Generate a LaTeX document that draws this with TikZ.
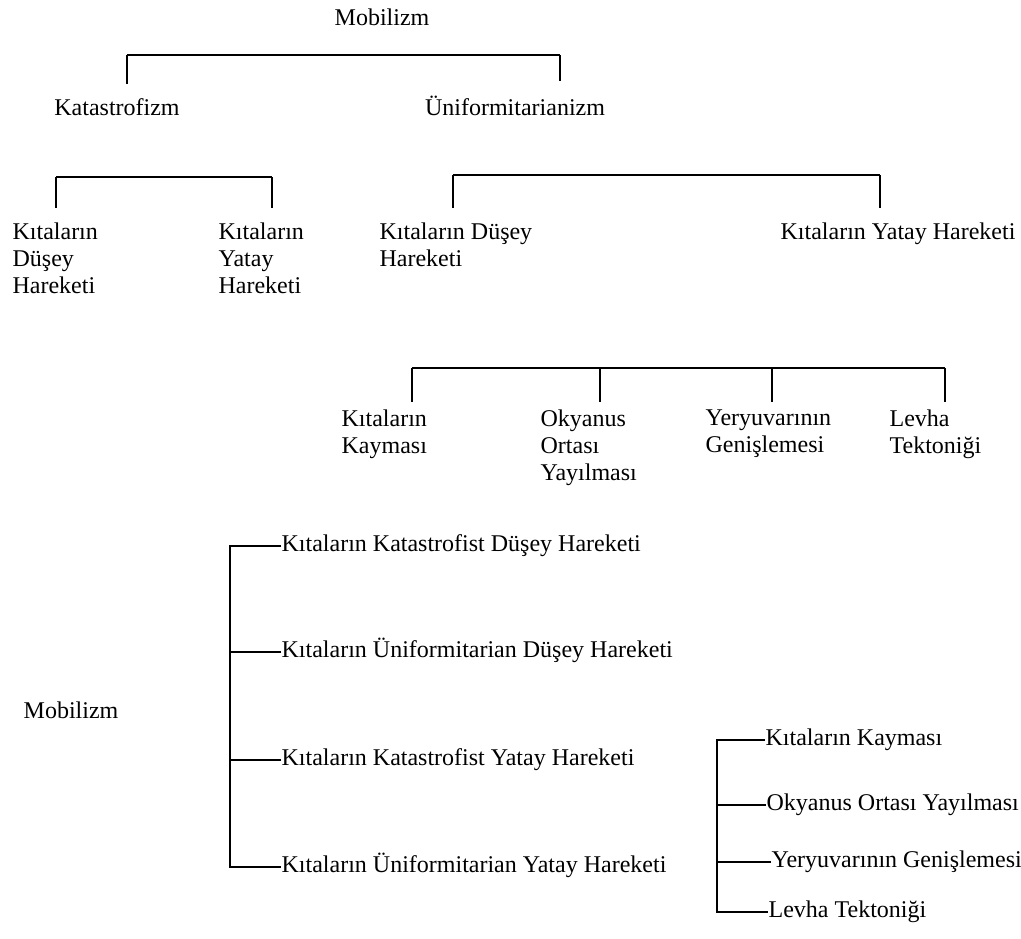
\documentclass[tikz,border=0pt]{standalone}
\usepackage{fontspec}
\setmainfont{Liberation Serif}
\tikzset{every node/.style={inner sep=0pt, font=\fontsize{12}{13.5}\selectfont},
    lbl/.style={anchor=base},
    col/.style={anchor=north west, align=left},
    twig/.style={anchor=west, text height=8.2pt, text depth=2.5pt},
    drop/.style={shorten >=#1},
    drop/.default=7pt,
    }

\begin{document}
\begin{tikzpicture}[x=0.5pt, y=-0.5pt, line width=0.6pt]
\useasboundingbox (0,0) rectangle (1021,938);
% first tree
\node[lbl] (mob) at (382,25) {Mobilizm};
\node[lbl] (kat) at (117,115) {Katastrofizm};
\node[lbl] (uni) at (515,115) {Üniformitarianizm};
\coordinate (mobL) at (127,55);
\coordinate (mobR) at (560,55);
\draw (mobL) -- (mobR);
\draw[drop] (mobL) -- (mobL |- kat.north);
\draw[drop] (mobR) -- (mobR |- uni.north);
% Katastrofizm
\node[col] (kdus) at (12,222) {Kıtaların\\Düşey\\Hareketi};
\node[col] (kyat) at (218,222) {Kıtaların\\Yatay\\Hareketi};
\coordinate (katL) at (56,177);
\coordinate (katR) at (272,177);
\draw (katL) -- (katR);
\draw[drop] (katL) -- (katL |- kdus.north);
\draw[drop] (katR) -- (katR |- kyat.north);
% Üniformitarianizm
\node[col] (udus) at (379,222) {Kıtaların Düşey\\Hareketi};
\node[col] (uyat) at (780,222) {Kıtaların Yatay Hareketi};
\coordinate (uniL) at (453,175);
\coordinate (uniR) at (880,175);
\draw (uniL) -- (uniR);
\draw[drop] (uniL) -- (uniL |- udus.north);
\draw[drop] (uniR) -- (uniR |- uyat.north);
% yatay hareket
\node[col] (kay) at (341,409) {Kıtaların\\Kayması};
\node[col] (oky) at (540,409) {Okyanus\\Ortası\\Yayılması};
\node[col] (yer) at (705,409) {Yeryuvarının\\Genişlemesi};
\node[col] (lev) at (889,409) {Levha\\Tektoniği};
\coordinate (hor1) at (412,368);
\coordinate (hor2) at (600,368);
\coordinate (hor3) at (772,368);
\coordinate (hor4) at (945,368);
\draw (hor1) -- (hor4);
\foreach \c/\n in {hor1/kay,hor2/oky,hor3/yer,hor4/lev}
    \draw[drop=3.5pt] (\c) -- (\c |- \n.north);

% second tree
\node[lbl] (mob2) at (71,718) {Mobilizm};
\node[twig] (bkd) at (281,546) {Kıtaların Katastrofist Düşey Hareketi};
\node[twig] (bud) at (281,652) {Kıtaların Üniformitarian Düşey Hareketi};
\node[twig] (bky) at (281,760) {Kıtaların Katastrofist Yatay Hareketi};
\node[twig] (buy) at (281,867) {Kıtaların Üniformitarian Yatay Hareketi};
\coordinate (spine) at (230,0);
\draw (bkd.west) -- (bkd.west -| spine) -- (buy.west -| spine) -- (buy.west);
\draw (bud.west) -- (bud.west -| spine);
\draw (bky.west) -- (bky.west -| spine);
% yatay hareket
\node[twig] (rkay) at (765,740) {Kıtaların Kayması};
\node[twig] (roky) at (766,805) {Okyanus Ortası Yayılması};
\node[twig] (ryer) at (771,862) {Yeryuvarının Genişlemesi};
\node[twig] (rlev) at (768,912) {Levha Tektoniği};
\coordinate (rspine) at (717,0);
\draw (rkay.west) -- (rkay.west -| rspine) -- (rlev.west -| rspine) -- (rlev.west);
\draw (roky.west) -- (roky.west -| rspine);
\draw (ryer.west) -- (ryer.west -| rspine);
\end{tikzpicture}
\end{document}
